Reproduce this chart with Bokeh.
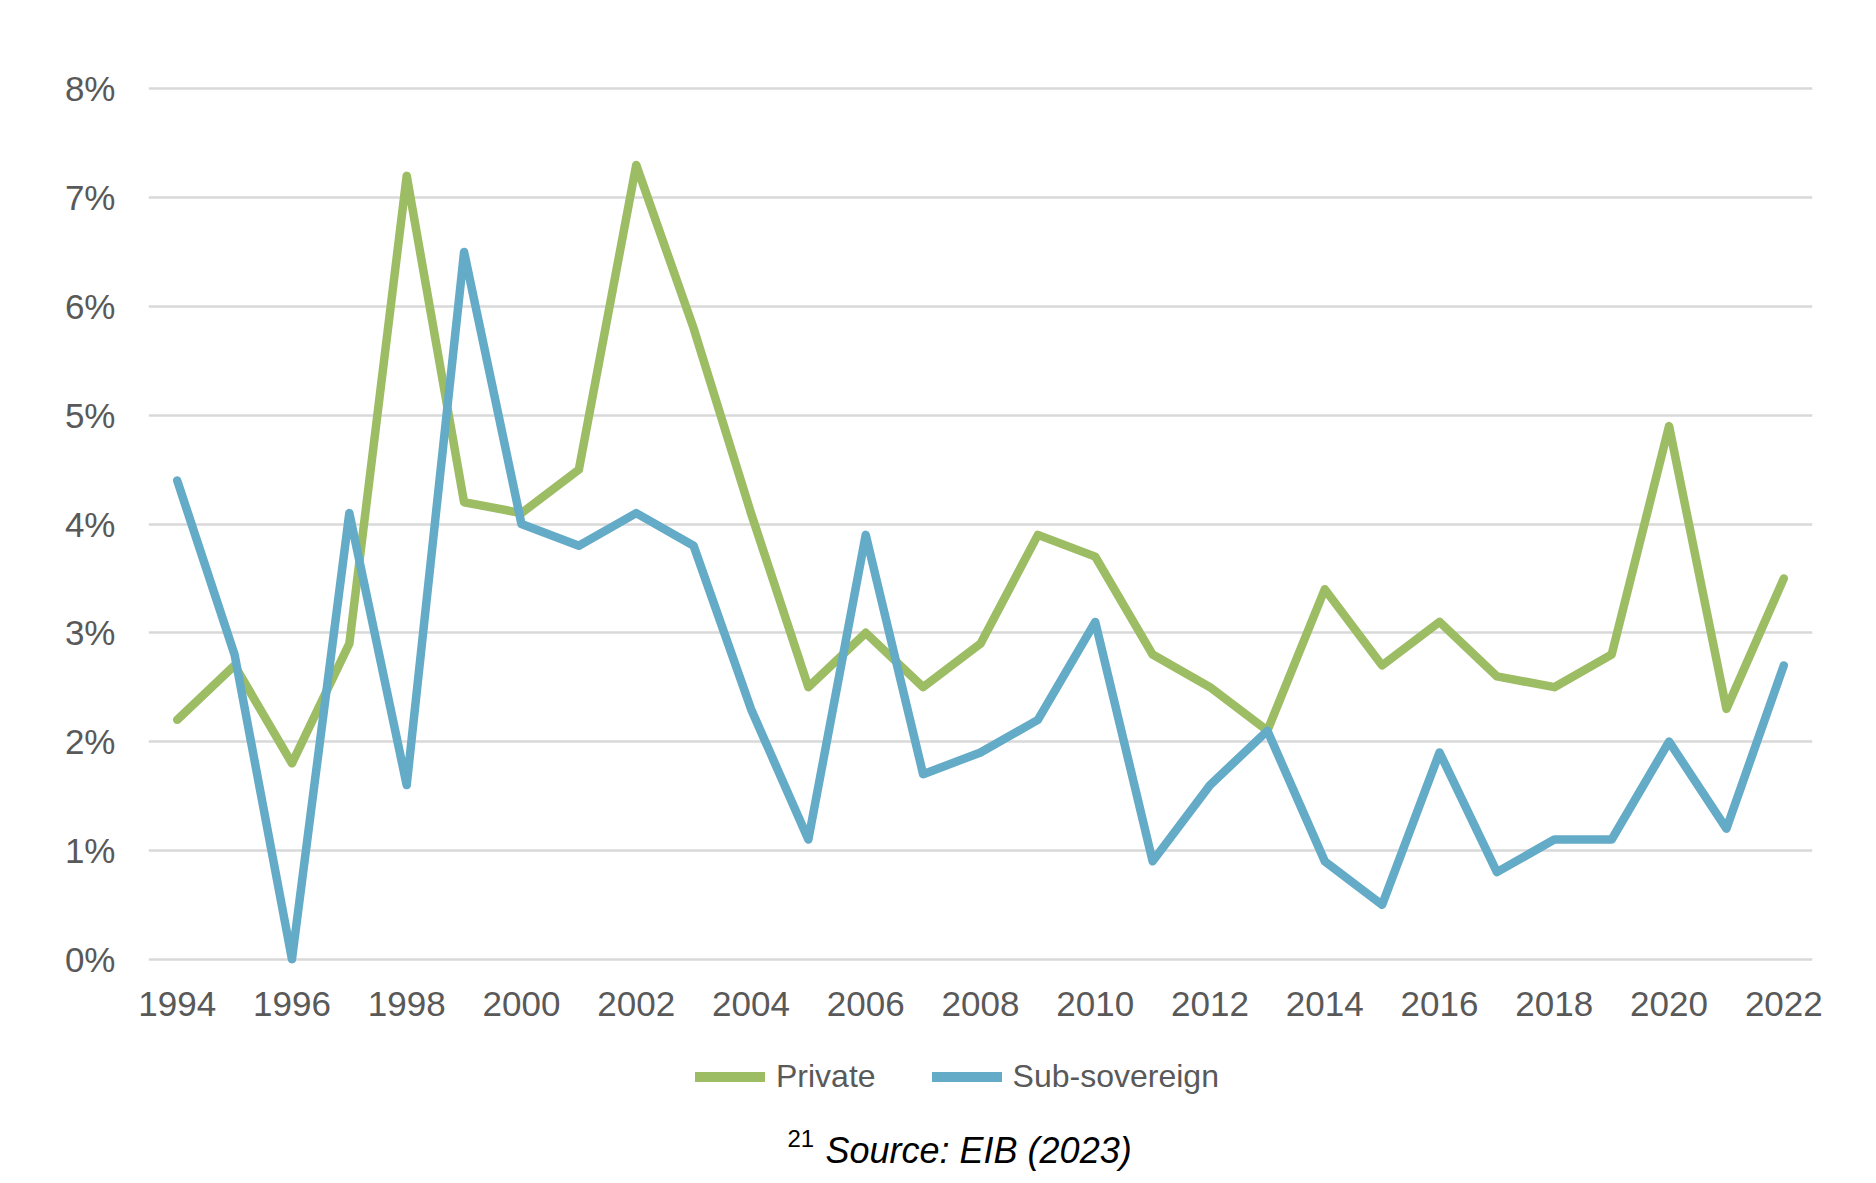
from bokeh.plotting import figure
from bokeh.layouts import column
from bokeh.models import Range1d, FixedTicker, Legend, LegendItem, Label
from bokeh.embed import file_html
from bokeh.resources import INLINE

# ---- data ----
years = list(range(1994, 2023))
private = [2.2, 2.7, 1.8, 2.9, 7.2, 4.2, 4.1, 4.5, 7.3, 5.8,
           4.1, 2.5, 3.0, 2.5, 2.9, 3.9, 3.7, 2.8, 2.5, 2.1,
           3.4, 2.7, 3.1, 2.6, 2.5, 2.8, 4.9, 2.3, 3.5]
sub_sovereign = [4.4, 2.8, 0.0, 4.1, 1.6, 6.5, 4.0, 3.8, 4.1, 3.8,
                 2.3, 1.1, 3.9, 1.7, 1.9, 2.2, 3.1, 0.9, 1.6, 2.1,
                 0.9, 0.5, 1.9, 0.8, 1.1, 1.1, 2.0, 1.2, 2.7]
series_names = ["Private", "Sub-sovereign"]
x_ticks = list(range(1994, 2023, 2))
y_ticks = [0, 1, 2, 3, 4, 5, 6, 7, 8]
y_tick_labels = ["0%", "1%", "2%", "3%", "4%", "5%", "6%", "7%", "8%"]
source_note = "Source: EIB (2023)"
footnote_no = "21"

GREEN = "#9DBD64"
BLUE = "#64ABC7"
TEXT = "#595959"
FONT = "Liberation Sans"

# ---- layout ----
W = 1860
LEFT, RIGHT, TOP, BOTTOM = 148, 48, 72, 60
FH = 903
H2 = 140
X0, X1 = 1993.5, 2022.5
Y0, Y1 = -0.15, 8.15

p = figure(width=W, height=TOP + FH + BOTTOM,
           min_border_left=LEFT, min_border_right=RIGHT,
           min_border_top=TOP, min_border_bottom=BOTTOM,
           x_range=Range1d(X0, X1), y_range=Range1d(Y0, Y1),
           output_backend="svg", toolbar_location=None,
           background_fill_color="white", border_fill_color="white")
p.outline_line_color = None

# grid
p.xgrid.grid_line_color = None
p.ygrid.ticker = FixedTicker(ticks=y_ticks)
p.ygrid.grid_line_color = "#D9D9D9"
p.ygrid.grid_line_width = 2.5

# axes
for ax in (p.xaxis[0], p.yaxis[0]):
    ax.axis_line_color = None
    ax.major_tick_line_color = None
    ax.minor_tick_line_color = None
    ax.major_tick_in = 0
    ax.major_tick_out = 0
    ax.minor_tick_in = 0
    ax.minor_tick_out = 0
    ax.major_label_text_font = FONT
    ax.major_label_text_font_size = "35px"
    ax.major_label_text_color = TEXT

p.xaxis.ticker = FixedTicker(ticks=x_ticks)
p.xaxis.major_label_overrides = {t: str(t) for t in x_ticks}
p.xaxis.major_label_standoff = 16
p.yaxis.ticker = FixedTicker(ticks=y_ticks)
p.yaxis.major_label_overrides = {t: lab for t, lab in zip(y_ticks, y_tick_labels)}
p.yaxis.major_label_standoff = 33

# lines
line_style = dict(line_width=8.5, line_join="round", line_cap="round")
p.line(years, private, line_color=GREEN, **line_style)
p.line(years, sub_sovereign, line_color=BLUE, **line_style)

# ---- legend + source strip (page-pixel coordinates; frame aligned with the chart) ----
p2 = figure(width=W, height=H2, x_range=Range1d(LEFT, W - RIGHT), y_range=Range1d(0, H2),
            min_border_left=LEFT, min_border_right=RIGHT, min_border_top=0, min_border_bottom=0,
            output_backend="svg", toolbar_location=None,
            background_fill_color="white", border_fill_color="white")
p2.outline_line_color = None
p2.axis.visible = False
p2.grid.visible = False

# legend proxies: same series, they fall outside this strip's x range
k1 = p2.line(years, private, line_color=GREEN, line_width=10, line_cap="round")
k2 = p2.line(years, sub_sovereign, line_color=BLUE, line_width=10, line_cap="round")

legend = Legend(items=[LegendItem(label=series_names[0], renderers=[k1]),
                       LegendItem(label=series_names[1], renderers=[k2])],
                orientation="horizontal",
                location=(695 - LEFT, 80),
                glyph_width=70, glyph_height=37, label_height=37,
                label_standoff=11, spacing=56, padding=0, margin=0,
                label_text_font=FONT, label_text_font_size="32px",
                label_text_color=TEXT, label_text_baseline="middle",
                border_line_color=None, background_fill_alpha=0)
p2.add_layout(legend, "center")

p2.add_layout(Label(x=787, y=37, text=footnote_no,
                    text_font=FONT, text_font_size="24px",
                    text_color="black", text_align="left", text_baseline="alphabetic"))
p2.add_layout(Label(x=825, y=25, text=source_note,
                    text_font=FONT, text_font_size="36px", text_font_style="italic",
                    text_color="black", text_align="left", text_baseline="alphabetic"))

layout = column(p, p2, spacing=0)
open("out.html", "w").write(file_html(layout, INLINE))
